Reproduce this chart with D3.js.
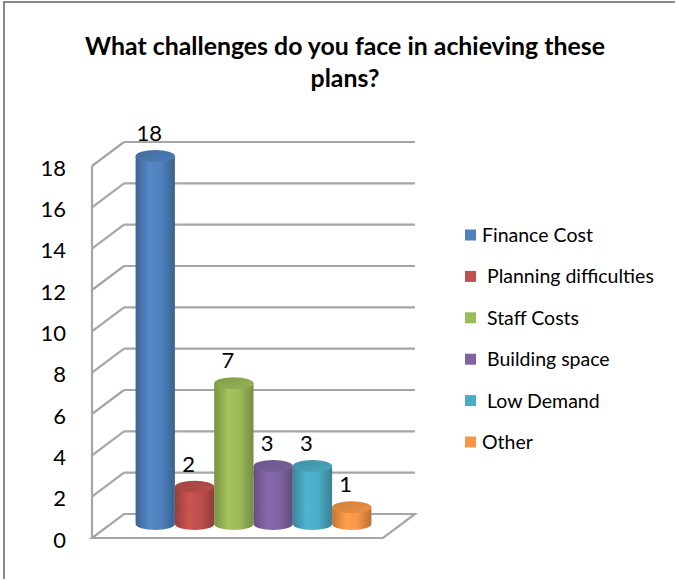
<!DOCTYPE html>
<html>
<head>
<meta charset="utf-8">
<script src="https://cdn.jsdelivr.net/npm/d3@7"></script>
<style>
  html, body { margin: 0; padding: 0; background: #fff; }
  svg { display: block; }
  text { font-family: Lato, "Open Sans", sans-serif; fill: #000; }
</style>
</head>
<body>
<script>
// ---- data ----
const titleLines = ["What challenges do you face in achieving these", "plans?"];
const series = ["Finance Cost", "Planning difficulties", "Staff Costs", "Building space", "Low Demand", "Other"];
const legendLabels = ["Finance Cost", " Planning difficulties", " Staff Costs", " Building space", " Low Demand", "Other"];
const values = [18, 2, 7, 3, 3, 1];
const colors = ["#4f81bd", "#c0504d", "#9bbb59", "#8064a2", "#4bacc6", "#f79646"];
const yTicks = [0, 2, 4, 6, 8, 10, 12, 14, 16, 18];

const W = 675, H = 579;
const svg = d3.select("body").append("svg").attr("width", W).attr("height", H);
const defs = svg.append("defs");

// frame
svg.append("line").attr("x1", 4).attr("x2", 4).attr("y1", 2).attr("y2", H).attr("stroke", "#8a8a8a").attr("stroke-width", 2);
svg.append("line").attr("x1", 3).attr("x2", W).attr("y1", 2).attr("y2", 2).attr("stroke", "#8a8a8a").attr("stroke-width", 2);

// title (sized to span the reference width)
const title = svg.append("g");
const tl = titleLines.map((t, i) =>
  title.append("text").attr("x", 345).attr("y", 55 + i * 32)
    .attr("text-anchor", "middle").attr("font-weight", "bold").attr("font-size", 20).text(t));
const w0 = tl[0].node().getComputedTextLength();
const fs = Math.min(26, 20 * 520 / w0);
tl.forEach(t => t.attr("font-size", fs));

// 3D geometry
const frontLeft = 92, frontRight = 383;
const depthX = 32, depthY = -24;
const y = d3.scaleLinear().domain([0, 18]).range([538, 166]); // front plane
const gridColor = "#a6a6a6";

const grid = svg.append("g");
grid.append("path")
  .attr("d", `M${frontLeft},${y(0)} L${frontRight},${y(0)} L${frontRight + depthX},${y(0) + depthY} L${frontLeft + depthX},${y(0) + depthY} Z`)
  .attr("fill", "none").attr("stroke", gridColor).attr("stroke-width", 2.2);
grid.append("line").attr("x1", frontLeft).attr("x2", frontLeft).attr("y1", y(0)).attr("y2", y(18))
  .attr("stroke", gridColor).attr("stroke-width", 2.2);
yTicks.forEach(v => {
  if (v === 0) return;
  grid.append("line").attr("x1", frontLeft).attr("y1", y(v)).attr("x2", frontLeft + depthX).attr("y2", y(v) + depthY)
    .attr("stroke", gridColor).attr("stroke-width", 2.2);
  grid.append("line").attr("x1", frontLeft + depthX).attr("y1", y(v) + depthY).attr("x2", frontRight + depthX).attr("y2", y(v) + depthY)
    .attr("stroke", gridColor).attr("stroke-width", 2.2);
});

// axis labels
const axis = d3.axisLeft(y).tickValues(yTicks).tickSize(0).tickPadding(0);
const axG = svg.append("g").attr("transform", `translate(66,2)`).call(axis);
axG.select(".domain").remove();
axG.selectAll("text").attr("font-size", 22).attr("font-family", "Lato, sans-serif").attr("fill", "#000");

// bars (cylinders) at mid-depth
const midX = depthX / 2, midY = depthY / 2;
const cat = d3.scaleBand().domain(["all"]).range([frontLeft + midX, frontRight + midX]).paddingInner(0).paddingOuter(0.117);
const xs = d3.scaleBand().domain(series).range([cat("all"), cat("all") + cat.bandwidth()]).padding(0);
const bw = xs.bandwidth();
const ry = 6;

colors.forEach((c, i) => {
  const base = d3.color(c);
  const g = defs.append("linearGradient").attr("id", "g" + i).attr("x1", "0").attr("x2", "1").attr("y1", "0").attr("y2", "0");
  g.append("stop").attr("offset", "0%").attr("stop-color", base.darker(0.7));
  g.append("stop").attr("offset", "35%").attr("stop-color", base.brighter(0.15));
  g.append("stop").attr("offset", "65%").attr("stop-color", base);
  g.append("stop").attr("offset", "100%").attr("stop-color", base.darker(0.8));
  const t = defs.append("linearGradient").attr("id", "t" + i).attr("x1", "0").attr("x2", "1").attr("y1", "0").attr("y2", "1");
  t.append("stop").attr("offset", "0%").attr("stop-color", base.darker(0.5));
  t.append("stop").attr("offset", "100%").attr("stop-color", base.darker(0.1));
});

const bars = svg.append("g");
series.forEach((s, i) => {
  const x0 = xs(s), cx = x0 + bw / 2;
  const yb = y(0) + midY - 2, yt = y(values[i]) + midY + 2;
  const g = bars.append("g");
  g.append("path")
    .attr("d", `M${x0},${yt} L${x0},${yb} A${bw / 2},${ry} 0 0 0 ${x0 + bw},${yb} L${x0 + bw},${yt} Z`)
    .attr("fill", `url(#g${i})`);
  g.append("ellipse").attr("cx", cx).attr("cy", yt).attr("rx", bw / 2).attr("ry", ry)
    .attr("fill", `url(#t${i})`);
  svg.append("text").attr("x", cx - 6).attr("y", yt - 15).attr("text-anchor", "middle")
    .attr("font-size", 22).text(values[i]);
});

// legend
const ly = d3.scalePoint().domain(series).range([235, 442]);
const leg = svg.append("g");
series.forEach((s, i) => {
  leg.append("rect").attr("x", 465).attr("y", ly(s) - 5.5).attr("width", 11).attr("height", 11).attr("fill", colors[i]);
  leg.append("text").attr("x", 482).attr("y", ly(s) + 7).attr("font-size", 19.5)
    .attr("xml:space", "preserve").style("white-space", "pre").text(legendLabels[i]);
});
</script>
</body>
</html>
